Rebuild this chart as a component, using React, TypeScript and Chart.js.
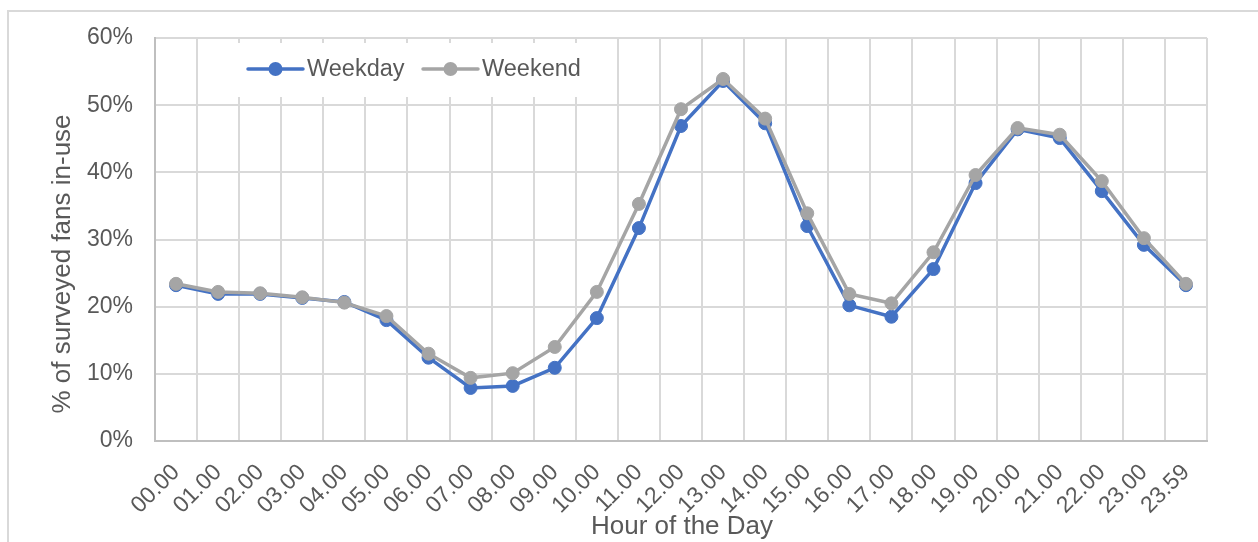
import React, { useEffect, useRef } from "react";
import { Chart, registerables } from "chart.js";

Chart.register(...registerables);

const hours: string[] = [
  "00.00", "01.00", "02.00", "03.00", "04.00", "05.00", "06.00", "07.00", "08.00", "09.00",
  "10.00", "11.00", "12.00", "13.00", "14.00", "15.00", "16.00", "17.00", "18.00", "19.00",
  "20.00", "21.00", "22.00", "23.00", "23.59",
];

const weekday: number[] = [
  23.2, 21.9, 21.9, 21.3, 20.7, 18.0, 12.4, 7.9, 8.2, 10.9,
  18.3, 31.7, 46.9, 53.6, 47.3, 32.0, 20.2, 18.5, 25.6, 38.4,
  46.4, 45.1, 37.2, 29.2, 23.2,
];

const weekend: number[] = [
  23.4, 22.2, 22.0, 21.4, 20.6, 18.6, 13.0, 9.4, 10.1, 14.0,
  22.2, 35.3, 49.4, 53.9, 48.0, 33.9, 21.9, 20.5, 28.1, 39.6,
  46.6, 45.6, 38.7, 30.2, 23.4,
];

const seriesNames: string[] = ["Weekday", "Weekend"];
const seriesColors: string[] = ["#4472C4", "#A5A5A5"];
const yTitle = "% of surveyed fans in-use";
const xTitle = "Hour of the Day";

const FONT = "'Liberation Sans', Arial, sans-serif";
const TEXT = "#595959";

const overlayPlugin = {
  id: "overlay",
  beforeDatasetsDraw(chart: any) {
    const ctx = chart.ctx;
    ctx.save();
    // legend box
    ctx.fillStyle = "#ffffff";
    ctx.fillRect(212, 43, 395, 54);
    const items = [
      { x: 248, text: seriesNames[0], color: seriesColors[0] },
      { x: 423, text: seriesNames[1], color: seriesColors[1] },
    ];
    const cy = 69;
    items.forEach((it) => {
      ctx.strokeStyle = it.color;
      ctx.lineWidth = 3.5;
      ctx.lineCap = "round";
      ctx.beginPath();
      ctx.moveTo(it.x, cy);
      ctx.lineTo(it.x + 55, cy);
      ctx.stroke();
      ctx.fillStyle = it.color;
      ctx.beginPath();
      ctx.arc(it.x + 27.5, cy, 7, 0, Math.PI * 2);
      ctx.fill();
      ctx.fillStyle = TEXT;
      ctx.font = `23.5px ${FONT}`;
      ctx.textBaseline = "middle";
      ctx.textAlign = "left";
      ctx.fillText(it.text, it.x + 59, cy + 1);
    });
    ctx.restore();
  },
  afterDraw(chart: any) {
    const ctx = chart.ctx;
    ctx.save();
    ctx.fillStyle = TEXT;
    ctx.font = `26px ${FONT}`;
    ctx.textAlign = "center";
    ctx.textBaseline = "middle";
    ctx.fillText(xTitle, 682, 527);
    ctx.translate(63, 264);
    ctx.rotate(-Math.PI / 2);
    ctx.fillText(yTitle, 0, 0);
    ctx.restore();
  },
};

export default function App() {
  const ref = useRef<HTMLCanvasElement | null>(null);

  useEffect(() => {
    if (!ref.current) return;
    const chart = new Chart(ref.current, {
      type: "line",
      data: {
        labels: hours,
        datasets: [
          {
            label: seriesNames[0],
            data: weekday,
            borderColor: seriesColors[0],
            backgroundColor: seriesColors[0],
            pointBackgroundColor: seriesColors[0],
            pointBorderColor: seriesColors[0],
            borderWidth: 3.5,
            pointRadius: 6.5,
            pointBorderWidth: 1,
            tension: 0,
            order: 1,
          },
          {
            label: seriesNames[1],
            data: weekend,
            borderColor: seriesColors[1],
            backgroundColor: seriesColors[1],
            pointBackgroundColor: seriesColors[1],
            pointBorderColor: seriesColors[1],
            borderWidth: 3.5,
            pointRadius: 6.5,
            pointBorderWidth: 1,
            tension: 0,
            order: 0,
          },
        ],
      },
      options: {
        responsive: false,
        animation: false,
        layout: { padding: { top: 38, right: 51, left: 0, bottom: 0 } },
        plugins: {
          legend: { display: false },
          tooltip: { enabled: false },
        },
        scales: {
          x: {
            type: "category",
            offset: true,
            grid: { offset: true, color: "#d9d9d9", lineWidth: 2, drawTicks: false },
            border: { color: "#bfbfbf", width: 2 },
            ticks: {
              autoSkip: false,
              maxRotation: 45,
              minRotation: 45,
              padding: 18,
              color: TEXT,
              font: { family: FONT, size: 23 },
            },
            afterFit: (s: any) => {
              s.height = 101;
            },
          },
          y: {
            min: 0,
            max: 60,
            grid: { color: "#d9d9d9", lineWidth: 2, drawTicks: false },
            border: { color: "#bfbfbf", width: 2 },
            ticks: {
              stepSize: 10,
              padding: 22,
              color: TEXT,
              font: { family: FONT, size: 23 },
              callback: (v: any) => `${v}%`,
            },
            afterFit: (s: any) => {
              s.width = 155;
            },
          },
        },
      },
      plugins: [overlayPlugin],
    });
    return () => chart.destroy();
  }, []);

  return (
    <div style={{ position: "absolute", left: 0, top: 0, width: 1258, height: 542, background: "#fff" }}>
      <div
        style={{
          position: "absolute",
          left: 7,
          top: 10,
          width: 1300,
          height: 600,
          borderTop: "2px solid #d9d9d9",
          borderLeft: "2px solid #d9d9d9",
          boxSizing: "border-box",
        }}
      />
      <canvas ref={ref} width={1258} height={542} style={{ position: "absolute", left: 0, top: 0 }} />
    </div>
  );
}
